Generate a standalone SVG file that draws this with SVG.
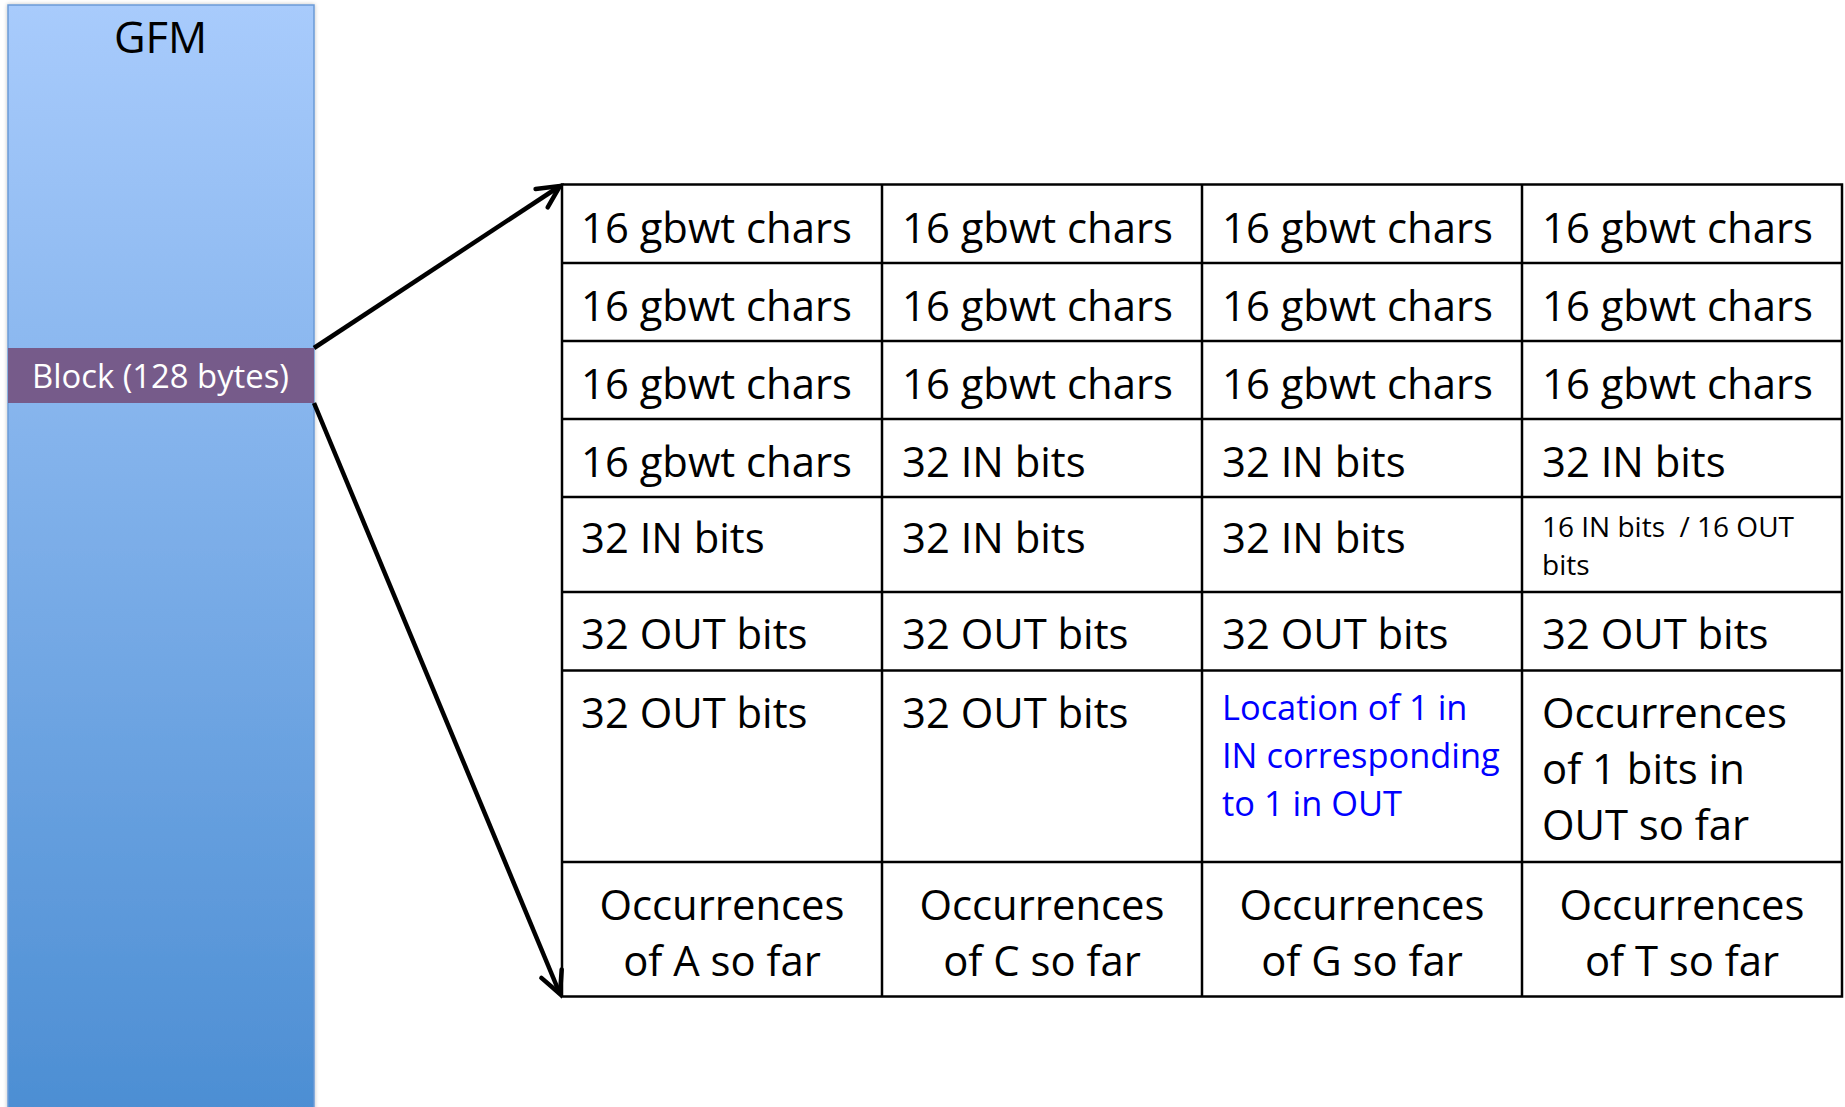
<svg xmlns="http://www.w3.org/2000/svg" width="1845" height="1107" viewBox="0 0 1845 1107">
  <style>
    .t { font-family: "Open Sans", "Noto Sans", sans-serif; fill: #000; }
    .big { font-size: 41.8px; }
    .mid { font-size: 34.4px; fill: #0000ff; }
    .small { font-size: 28px; white-space: pre; }
    .occ { font-size: 41.8px; text-anchor: middle; }
    .grid { stroke: #000; stroke-width: 2.5; fill: none; }
    .conn { stroke: #000; stroke-width: 4.5; fill: none; }
  </style>
  <defs>
    <linearGradient id="gfmFill" x1="0" y1="0" x2="0" y2="1">
      <stop offset="0" stop-color="#a8cbfc"/>
      <stop offset="1" stop-color="#4c8ed3"/>
    </linearGradient>
    <filter id="softShadow" x="-5%" y="-5%" width="110%" height="110%">
      <feGaussianBlur in="SourceAlpha" stdDeviation="2"/>
      <feComponentTransfer><feFuncA type="linear" slope="0.25"/></feComponentTransfer>
      <feMerge><feMergeNode/><feMergeNode in="SourceGraphic"/></feMerge>
    </filter>
    <marker id="openArrow" markerUnits="userSpaceOnUse" markerWidth="40" markerHeight="40" viewBox="-30 -15 40 30" refX="0" refY="0" orient="auto">
      <path d="M-22,-11 L0,0 L-22,11" stroke="#000" stroke-width="4.5" fill="none" stroke-linecap="round" stroke-linejoin="miter"/>
    </marker>
  </defs>

  <rect width="1845" height="1107" fill="#ffffff"/>

  <!-- GFM column -->
  <g id="gfm">
    <rect x="8" y="5" width="306" height="1110" fill="url(#gfmFill)" stroke="#6b9ad6" stroke-width="1.5" filter="url(#softShadow)"/>
    <text class="t" x="160.5" y="53" font-size="43.5" text-anchor="middle">GFM</text>
  </g>

  <!-- 128-byte block -->
  <g id="block">
    <rect x="8" y="348" width="306" height="55" fill="#765b8a"/>
    <text class="t" x="160.5" y="388" font-size="32.8" text-anchor="middle" style="fill:#ffffff">Block (128 bytes)</text>
  </g>

  <!-- connectors from block to the expanded table -->
  <g id="connectors">
    <line class="conn" x1="314" y1="348" x2="560" y2="186" marker-end="url(#openArrow)"/>
    <line class="conn" x1="314" y1="403" x2="560" y2="994" marker-end="url(#openArrow)"/>
  </g>

  <!-- block layout table -->
  <g id="table">
    <rect class="grid" x="562" y="184.5" width="1280" height="812"/>
    <line class="grid" x1="882" y1="184.5" x2="882" y2="996.5"/>
    <line class="grid" x1="1202" y1="184.5" x2="1202" y2="996.5"/>
    <line class="grid" x1="1522" y1="184.5" x2="1522" y2="996.5"/>
    <line class="grid" x1="562" y1="263" x2="1842" y2="263"/>
    <line class="grid" x1="562" y1="341" x2="1842" y2="341"/>
    <line class="grid" x1="562" y1="419" x2="1842" y2="419"/>
    <line class="grid" x1="562" y1="497" x2="1842" y2="497"/>
    <line class="grid" x1="562" y1="592" x2="1842" y2="592"/>
    <line class="grid" x1="562" y1="670.5" x2="1842" y2="670.5"/>
    <line class="grid" x1="562" y1="862" x2="1842" y2="862"/>
  </g>

  <!-- rows 1-3: gbwt characters -->
  <g id="row1">
    <text class="t big" x="581" y="242.5">16 gbwt chars</text>
    <text class="t big" x="902" y="242.5">16 gbwt chars</text>
    <text class="t big" x="1222" y="242.5">16 gbwt chars</text>
    <text class="t big" x="1542" y="242.5">16 gbwt chars</text>
  </g>
  <g id="row2">
    <text class="t big" x="581" y="320.5">16 gbwt chars</text>
    <text class="t big" x="902" y="320.5">16 gbwt chars</text>
    <text class="t big" x="1222" y="320.5">16 gbwt chars</text>
    <text class="t big" x="1542" y="320.5">16 gbwt chars</text>
  </g>
  <g id="row3">
    <text class="t big" x="581" y="398.5">16 gbwt chars</text>
    <text class="t big" x="902" y="398.5">16 gbwt chars</text>
    <text class="t big" x="1222" y="398.5">16 gbwt chars</text>
    <text class="t big" x="1542" y="398.5">16 gbwt chars</text>
  </g>

  <!-- row 4: last chars + IN bits -->
  <g id="row4">
    <text class="t big" x="581" y="476.5">16 gbwt chars</text>
    <text class="t big" x="902" y="476.5">32 IN bits</text>
    <text class="t big" x="1222" y="476.5">32 IN bits</text>
    <text class="t big" x="1542" y="476.5">32 IN bits</text>
  </g>

  <!-- row 5: IN bits, split cell -->
  <g id="row5">
    <text class="t big" x="581" y="553">32 IN bits</text>
    <text class="t big" x="902" y="553">32 IN bits</text>
    <text class="t big" x="1222" y="553">32 IN bits</text>
    <text class="t small" x="1542" y="537">16 IN bits  / 16 OUT</text>
    <text class="t small" x="1542" y="575">bits</text>
  </g>

  <!-- row 6: OUT bits -->
  <g id="row6">
    <text class="t big" x="581" y="648.5">32 OUT bits</text>
    <text class="t big" x="902" y="648.5">32 OUT bits</text>
    <text class="t big" x="1222" y="648.5">32 OUT bits</text>
    <text class="t big" x="1542" y="648.5">32 OUT bits</text>
  </g>

  <!-- row 7: OUT bits, IN/OUT mapping, OUT count -->
  <g id="row7">
    <text class="t big" x="581" y="727.5">32 OUT bits</text>
    <text class="t big" x="902" y="727.5">32 OUT bits</text>
    <text class="t mid" x="1222" y="720">Location of 1 in</text>
    <text class="t mid" x="1222" y="768">IN corresponding</text>
    <text class="t mid" x="1222" y="816">to 1 in OUT</text>
    <text class="t big" x="1542" y="727.5">Occurrences</text>
    <text class="t big" x="1542" y="783.5">of 1 bits in</text>
    <text class="t big" x="1542" y="839.5">OUT so far</text>
  </g>

  <!-- row 8: per-character occurrence counts -->
  <g id="row8">
    <text class="t occ" x="722" y="920">Occurrences</text>
    <text class="t occ" x="722" y="976">of A so far</text>
    <text class="t occ" x="1042" y="920">Occurrences</text>
    <text class="t occ" x="1042" y="976">of C so far</text>
    <text class="t occ" x="1362" y="920">Occurrences</text>
    <text class="t occ" x="1362" y="976">of G so far</text>
    <text class="t occ" x="1682" y="920">Occurrences</text>
    <text class="t occ" x="1682" y="976">of T so far</text>
  </g>
</svg>
